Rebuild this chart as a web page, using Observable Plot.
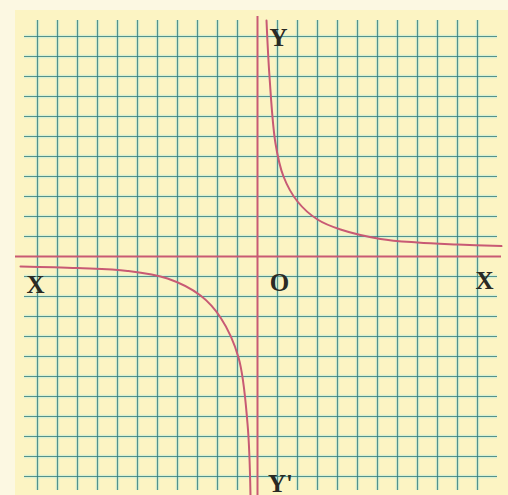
<!DOCTYPE html>
<html><head><meta charset="utf-8">
<script src="https://cdn.jsdelivr.net/npm/d3@7"></script>
<script src="https://cdn.jsdelivr.net/npm/@observablehq/plot@0.6"></script>
<style>
html,body{margin:0;padding:0;background:#fcf8e2;}
#chart{width:508px;height:495px;}
</style></head>
<body><div id="chart"></div>
<script>
// grid lines (integer units)
const gridTicks = [-11,-10,-9,-8,-7,-6,-5,-4,-3,-2,-1,1,2,3,4,5,6,7,8,9,10,11];
// upper-right branch
const upperX = [0.45, 0.6, 0.9, 1.3, 2.0, 3.0, 4.15, 6.15, 8.0, 10.0, 12.2];
const upperY = [11.8, 9.0, 5.65, 4.0, 2.75, 1.85, 1.35, 0.88, 0.7, 0.6, 0.52];
// lower-left branch
const lowerX = [-11.85, -9.0, -6.5, -4.5, -2.85, -1.85, -0.95, -0.5, -0.35];
const lowerY = [-0.5, -0.58, -0.72, -1.1, -1.95, -3.05, -5.05, -8.35, -11.95];
// labels
const labelText = ["Y", "Y'", "X", "X", "O"];
const labelX = [1.05, 1.15, -11.1, 11.35, 1.1];
const labelY = [10.95, -11.35, -1.4, -1.2, -1.3];

const upper = upperX.map((x,i)=>({x, y: upperY[i]}));
const lower = lowerX.map((x,i)=>({x, y: lowerY[i]}));
const labels = labelText.map((t,i)=>({t, x: labelX[i], y: labelY[i]}));

const teal = "#327a7a", halo = "#b4ece0", pink = "#c85a74";
const xDom = [-12.85, 12.55], yDom = [-11.95, 12.8];

const plot = Plot.plot({
  width: 508, height: 495,
  marginTop: 0, marginRight: 0, marginBottom: 0, marginLeft: 0,
  x: {domain: xDom, axis: null},
  y: {domain: yDom, axis: null},
  style: {background: "transparent", overflow: "visible"},
  marks: [
    Plot.rect([{}], {x1: -12.1, x2: 12.55, y1: -11.95, y2: 12.3, fill: "#fcf4c3"}),
    Plot.ruleX(gridTicks, {x: d=>d, y1: -11.7, y2: 11.8, stroke: halo, strokeWidth: 3.5, strokeOpacity: 0.45}),
    Plot.ruleY(gridTicks, {y: d=>d, x1: -11.65, x2: 12.0, stroke: halo, strokeWidth: 3.5, strokeOpacity: 0.45}),
    Plot.ruleX(gridTicks, {x: d=>d, y1: -11.7, y2: 11.8, stroke: teal, strokeWidth: 1.2, strokeOpacity: 0.8}),
    Plot.ruleY(gridTicks, {y: d=>d, x1: -11.65, x2: 12.0, stroke: teal, strokeWidth: 1.2, strokeOpacity: 0.8}),
    Plot.ruleY([0], {x1: -12.1, x2: 12.2, stroke: pink, strokeWidth: 2}),
    Plot.ruleX([0], {y1: -11.95, y2: 12.0, stroke: pink, strokeWidth: 2}),
    Plot.line(upper, {x: "x", y: "y", curve: "catmull-rom", stroke: pink, strokeWidth: 2}),
    Plot.line(lower, {x: "x", y: "y", curve: "catmull-rom", stroke: pink, strokeWidth: 2}),
    Plot.text(labels, {x: "x", y: "y", text: "t", fontSize: 25, fontWeight: "bold",
      fontFamily: "Liberation Serif", fill: "#2a2a24"})
  ]
});
document.getElementById("chart").appendChild(plot);
</script>
</body></html>
